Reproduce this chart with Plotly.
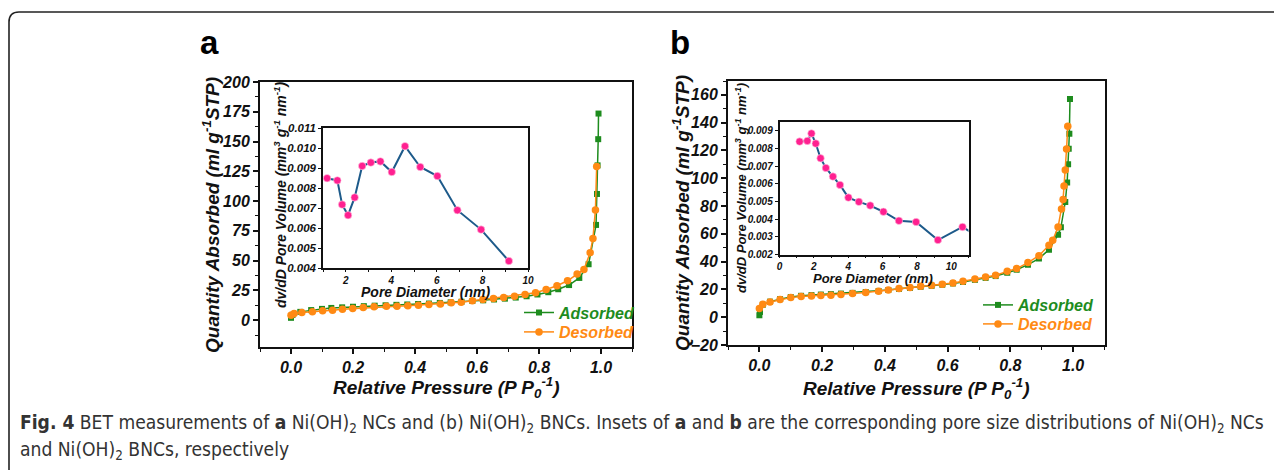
import plotly.graph_objects as go

W, H = 1282, 470
OX, OY = 8, 8  # page body margin offset

# ---------------- data ----------------
# Panel a: Ni(OH)2 NCs isotherm
a_ads_p = [0.0, 0.005, 0.03, 0.065, 0.1, 0.13, 0.165, 0.2, 0.235, 0.27, 0.305, 0.34, 0.375, 0.41,
           0.445, 0.48, 0.515, 0.55, 0.585, 0.62, 0.655, 0.69, 0.725, 0.76, 0.795, 0.83, 0.862,
           0.897, 0.93, 0.96, 0.984, 0.987, 0.989, 0.991, 0.992]
a_ads_v = [2.0, 4.5, 7.0, 8.5, 9.5, 10.3, 10.8, 11.3, 11.8, 12.2, 12.5, 12.9, 13.2, 13.6,
           14.0, 14.5, 15.0, 15.5, 16.1, 16.7, 17.4, 18.1, 19.0, 20.1, 21.6, 23.5, 26.0,
           29.5, 35.5, 47.0, 80.0, 106.0, 130.0, 152.0, 173.5]
a_des_p = [0.0, 0.01, 0.035, 0.069, 0.102, 0.134, 0.166, 0.199, 0.233, 0.268, 0.308, 0.342,
           0.377, 0.411, 0.445, 0.482, 0.517, 0.549, 0.585, 0.619, 0.653, 0.686, 0.721, 0.755,
           0.789, 0.823, 0.858, 0.892, 0.923, 0.945, 0.965, 0.974, 0.982, 0.986]
a_des_v = [4.2, 5.6, 6.5, 7.0, 7.9, 8.4, 9.3, 9.8, 10.7, 11.2, 11.8, 11.8, 12.1, 12.6, 13.2,
           13.7, 14.6, 15.1, 16.3, 17.4, 18.2, 19.1, 20.2, 21.6, 23.0, 25.8, 28.9, 33.1,
           38.7, 42.6, 56.7, 68.7, 92.6, 129.0]

# Panel a inset: pore size distribution
a_pore_d = [1.18, 1.63, 1.84, 2.10, 2.39, 2.72, 3.10, 3.52, 4.02, 4.60, 5.27, 6.02, 6.90, 7.94, 9.16]
a_pore_v = [0.00849, 0.00838, 0.00717, 0.00664, 0.00753, 0.00910, 0.00927, 0.00933, 0.00880,
            0.01009, 0.00905, 0.00860, 0.00689, 0.00592, 0.00435]

# Panel b: Ni(OH)2 BNCs isotherm
b_ads_p = [0.0, 0.002, 0.011, 0.034, 0.066, 0.1, 0.133, 0.166, 0.196, 0.228, 0.26, 0.297, 0.339,
           0.38, 0.411, 0.445, 0.48, 0.514, 0.549, 0.583, 0.617, 0.649, 0.687, 0.721, 0.753,
           0.79, 0.82, 0.856, 0.891, 0.923, 0.952, 0.961, 0.975, 0.981, 0.984, 0.986, 0.988, 0.99]
b_ads_v = [1.4, 3.8, 9.0, 11.2, 13.0, 14.5, 15.4, 15.9, 16.3, 16.6, 17.0, 17.5, 18.1, 18.9,
           19.6, 20.4, 21.1, 21.9, 22.6, 23.4, 24.3, 25.4, 26.9, 28.3, 29.6, 32.0, 34.2,
           37.8, 42.2, 48.6, 59.4, 64.7, 82.9, 97.0, 110.0, 121.2, 132.0, 157.0]
b_des_p = [0.0, 0.011, 0.034, 0.066, 0.1, 0.133, 0.166, 0.196, 0.228, 0.26, 0.297, 0.339, 0.38,
           0.411, 0.445, 0.48, 0.514, 0.549, 0.583, 0.617, 0.649, 0.687, 0.721, 0.753, 0.79,
           0.82, 0.856, 0.891, 0.923, 0.935, 0.952, 0.963, 0.968, 0.971, 0.975, 0.979, 0.983]
b_des_v = [6.2, 9.3, 11.0, 12.7, 14.1, 14.9, 15.3, 15.6, 15.8, 16.3, 17.0, 17.7, 18.7, 19.6,
           20.6, 21.3, 22.3, 23.0, 23.7, 24.7, 25.9, 27.5, 29.0, 30.2, 33.0, 35.0, 39.3,
           44.3, 51.7, 55.3, 64.9, 77.8, 84.8, 94.4, 106.0, 121.0, 137.5]

# Panel b inset: pore size distribution
b_pore_d = [1.17, 1.62, 1.86, 2.11, 2.39, 2.70, 3.11, 3.52, 4.01, 4.62, 5.28, 6.05, 6.95, 7.95,
            9.22, 10.65, 12.2]
b_pore_v = [0.00839, 0.00843, 0.00885, 0.00828, 0.00745, 0.00690, 0.00641, 0.00594, 0.00522,
            0.00498, 0.00477, 0.00442, 0.00391, 0.00384, 0.00282, 0.00356, 0.00262]

series_names = ["Adsorbed", "Desorbed"]

# ---------------- style ----------------
GREEN = "#1e8c1e"
ORANGE = "#ff8a14"
BLUE = "#1d5a8a"
PINK = "#ff2090"
FONT = "Liberation Sans, Arial, sans-serif"
CAP_FONT = "Liberation Sans Narrow, DejaVu Sans Condensed, Open Sans, sans-serif"


def px_x(x):
    return (x - OX) / W


def px_y(y):
    return 1 - (y - OY) / H


fig = go.Figure()

# main panel a
fig.add_trace(go.Scatter(x=a_ads_p, y=a_ads_v, mode="lines+markers",
                         name=f"<span style='color:{GREEN}'>{series_names[0]}</span>",
                         line=dict(color=GREEN, width=1.5),
                         marker=dict(symbol="square", size=6, color=GREEN),
                         xaxis="x", yaxis="y", legend="legend"))
fig.add_trace(go.Scatter(x=a_des_p, y=a_des_v, mode="lines+markers",
                         name=f"<span style='color:{ORANGE}'>{series_names[1]}</span>",
                         line=dict(color=ORANGE, width=1.5),
                         marker=dict(symbol="circle", size=7.5, color=ORANGE),
                         xaxis="x", yaxis="y", legend="legend3"))
# inset a
fig.add_trace(go.Scatter(x=a_pore_d, y=a_pore_v, mode="lines+markers", showlegend=False,
                         line=dict(color=BLUE, width=2),
                         marker=dict(size=7.5, color=PINK, line=dict(color="#ffd0e6", width=0.6)),
                         xaxis="x2", yaxis="y2"))
# main panel b
fig.add_trace(go.Scatter(x=b_ads_p, y=b_ads_v, mode="lines+markers",
                         name=f"<span style='color:{GREEN}'>{series_names[0]}</span>",
                         line=dict(color=GREEN, width=1.5),
                         marker=dict(symbol="square", size=6, color=GREEN),
                         xaxis="x3", yaxis="y3", legend="legend2"))
fig.add_trace(go.Scatter(x=b_des_p, y=b_des_v, mode="lines+markers",
                         name=f"<span style='color:{ORANGE}'>{series_names[1]}</span>",
                         line=dict(color=ORANGE, width=1.5),
                         marker=dict(symbol="circle", size=7.5, color=ORANGE),
                         xaxis="x3", yaxis="y3", legend="legend4"))
# inset b
fig.add_trace(go.Scatter(x=b_pore_d, y=b_pore_v, mode="lines+markers", showlegend=False,
                         line=dict(color=BLUE, width=2),
                         marker=dict(size=7.5, color=PINK, line=dict(color="#ffd0e6", width=0.6)),
                         xaxis="x4", yaxis="y4"))


def main_axis(domain, anchor, rng, dtick, minor_dtick, fmt=None):
    d = dict(domain=domain, anchor=anchor, range=rng, dtick=dtick, tick0=0,
             showline=True, linecolor="#111", linewidth=2, mirror=True,
             ticks="outside", ticklen=5, tickwidth=1.5, tickcolor="#111",
             minor=dict(dtick=minor_dtick, ticks="outside", ticklen=3, tickwidth=1.2, tickcolor="#111"),
             showgrid=False, zeroline=False, automargin=False,
             tickfont=dict(family=FONT, size=16, color="#111", weight="bold", style="italic"))
    if fmt:
        d["tickformat"] = fmt
    return d


def inset_axis(domain, anchor, rng, dtick, size, fmt=None, minor=None, ticklen=3):
    d = dict(domain=domain, anchor=anchor, range=rng, dtick=dtick, tick0=0,
             showline=True, linecolor="#111", linewidth=1.5, mirror=True,
             ticks="outside", ticklen=ticklen, tickwidth=1.2, tickcolor="#111",
             showgrid=False, zeroline=False, automargin=False,
             tickfont=dict(family=FONT, size=size, color="#111", weight="bold", style="italic"))
    if minor:
        d["minor"] = dict(dtick=minor, ticks="outside", ticklen=2, tickwidth=1, tickcolor="#111")
    if fmt:
        d["tickformat"] = fmt
    return d


def legend_at(x_px, y_px):
    return dict(x=px_x(x_px), y=px_y(y_px), xanchor="left", yanchor="middle",
                bgcolor="rgba(0,0,0,0)", borderwidth=0, tracegroupgap=0,
                font=dict(family=FONT, size=16, style="italic", weight="bold"),
                itemwidth=30)


a_x = [px_x(260), px_x(632)]
a_y = [px_y(347), px_y(82)]
b_x = [px_x(728), px_x(1104.5)]
b_y = [px_y(345), px_y(81)]
ia_x = [px_x(323), px_x(528)]
ia_y = [px_y(268), px_y(128)]
ib_x = [px_x(779.5), px_x(968.5)]
ib_y = [px_y(254.5), px_y(122)]

fig.update_layout(
    width=W, height=H,
    margin=dict(l=0, r=0, t=0, b=0, pad=0, autoexpand=False),
    paper_bgcolor="white", plot_bgcolor="white",
    font=dict(family=FONT, color="#111"),
    xaxis=main_axis(a_x, "y", [-0.1, 1.1], 0.2, 0.1, ".1f"),
    yaxis=main_axis(a_y, "x", [-22.5, 200], 25, 12.5),
    xaxis2=inset_axis(ia_x, "y2", [1, 10], 2, 10, minor=1, ticklen=2),
    yaxis2=inset_axis(ia_y, "x2", [0.004, 0.011], 0.001, 11.5, ".3f"),
    xaxis3=main_axis(b_x, "y3", [-0.1, 1.1], 0.2, 0.1, ".1f"),
    yaxis3=main_axis(b_y, "x3", [-20, 170], 20, 10),
    xaxis4=inset_axis(ib_x, "y4", [0, 11], 2, 10, minor=1, ticklen=2),
    yaxis4=inset_axis(ib_y, "x4", [0.002, 0.0095], 0.001, 10, ".3f"),
    legend=legend_at(519, 312.5),
    legend3=legend_at(519, 332),
    legend2=legend_at(978, 305),
    legend4=legend_at(978, 324),
    showlegend=True,
)

title_font = dict(family=FONT, size=19, color="#111", weight="bold", style="italic")
inset_title_font = dict(family=FONT, size=14, color="#111", weight="bold", style="italic")
inset_title_font_b = dict(family=FONT, size=13, color="#111", weight="bold", style="italic")

annots = [
    # panel letters
    dict(x=px_x(198), y=px_y(42), text="<b>a</b>", xanchor="left", yanchor="middle",
         font=dict(family=FONT, size=33, color="#000")),
    dict(x=px_x(668), y=px_y(42), text="<b>b</b>", xanchor="left", yanchor="middle",
         font=dict(family=FONT, size=33, color="#000")),
    # main axis titles
    dict(x=px_x(446), y=px_y(387), text="Relative Pressure (P P<sub>0</sub><sup>-1</sup>)",
         xanchor="center", yanchor="middle", font=title_font),
    dict(x=px_x(211), y=px_y(215), text="Quantity Absorbed (ml g<sup>-1</sup>STP)",
         textangle=-90, xanchor="center", yanchor="middle", font=title_font),
    dict(x=px_x(916), y=px_y(388), text="Relative Pressure (P P<sub>0</sub><sup>-1</sup>)",
         xanchor="center", yanchor="middle", font=title_font),
    dict(x=px_x(681), y=px_y(213), text="Quantity Absorbed (ml g<sup>-1</sup>STP)",
         textangle=-90, xanchor="center", yanchor="middle", font=title_font),
    # inset titles
    dict(x=px_x(426), y=px_y(292), text="Pore Diameter (nm)",
         xanchor="center", yanchor="middle", font=inset_title_font),
    dict(x=px_x(280), y=px_y(195),
         text="dv/dD Pore Volume (mm<sup>3</sup> g<sup>-1</sup> nm<sup>-1</sup>)",
         textangle=-90, xanchor="center", yanchor="middle", font=inset_title_font),
    dict(x=px_x(873), y=px_y(278), text="Pore Diameter (nm)",
         xanchor="center", yanchor="middle", font=inset_title_font_b),
    dict(x=px_x(741), y=px_y(188),
         text="dv/dD Pore Volume (mm<sup>3</sup> g<sup>-1</sup> nm<sup>-1</sup>)",
         textangle=-90, xanchor="center", yanchor="middle", font=inset_title_font_b),
    # caption
    dict(x=px_x(18), y=px_y(423),
         text="<b>Fig. 4</b> BET measurements of <b>a</b> Ni(OH)<sub>2</sub> NCs and (b) Ni(OH)<sub>2</sub> BNCs. "
              "Insets of <b>a</b> and <b>b</b> are the corresponding pore size distributions of "
              "Ni(OH)<sub>2</sub> NCs",
         xanchor="left", yanchor="middle",
         font=dict(family=CAP_FONT, size=19.1, color="#333")),
    dict(x=px_x(18), y=px_y(450),
         text="and Ni(OH)<sub>2</sub> BNCs, respectively",
         xanchor="left", yanchor="middle",
         font=dict(family=CAP_FONT, size=19.1, color="#333")),
]
for a in annots:
    a.setdefault("showarrow", False)
    a["xref"] = "paper"
    a["yref"] = "paper"
fig.update_layout(annotations=annots)

# rounded figure border (top-left corner)
r = 10
path = (f"M {px_x(9)},{px_y(490)} L {px_x(9)},{px_y(12 + r)} "
        f"Q {px_x(9)},{px_y(12)} {px_x(9 + r)},{px_y(12)} L {px_x(1300)},{px_y(12)}")
fig.add_shape(type="path", path=path, xref="paper", yref="paper",
              line=dict(color="#222", width=1.6))

fig.write_html("out.html")
